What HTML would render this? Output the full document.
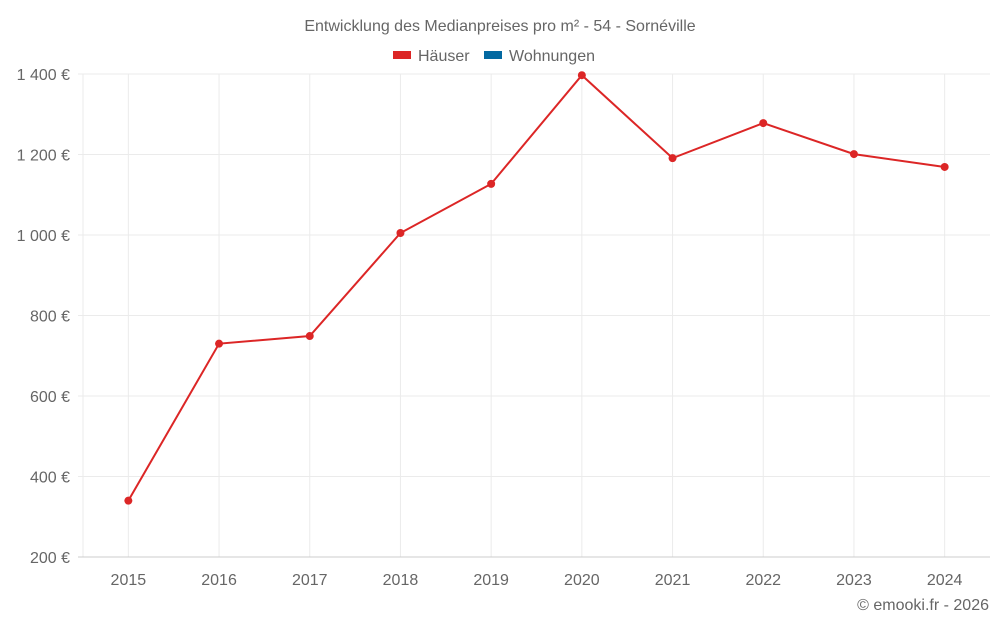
<!DOCTYPE html>
<html><head><meta charset="utf-8"><style>
body{margin:0;background:#fff;font-family:"Liberation Sans",sans-serif;}
svg text{font-family:"Liberation Sans",sans-serif;fill:#666;}
</style></head><body>
<svg id="chart" width="1000" height="625"></svg>
<script>
const years=["2015","2016","2017","2018","2019","2020","2021","2022","2023","2024"];
const houses=[340,730,749,1005,1127,1397,1191,1278,1201,1169];
const yTicks=[200,400,600,800,1000,1200,1400];
const yTickLabels=["200 €","400 €","600 €","800 €","1 000 €","1 200 €","1 400 €"];
const NS="http://www.w3.org/2000/svg";
const svg=document.getElementById('chart');
const L=83,R=990,T=74,B=557,yMin=200,yMax=1400;
const band=(R-L)/years.length;
const x=i=>L+band*(i+0.5);
const y=v=>B-(v-yMin)/(yMax-yMin)*(B-T);
function el(t,a,txt){const e=document.createElementNS(NS,t);for(const k in a)e.setAttribute(k,a[k]);if(txt!==undefined)e.textContent=txt;svg.appendChild(e);return e;}
let e;
e=el('text',{x:500,y:31,'text-anchor':'middle','font-size':16},'Entwicklung des Medianpreises pro m² - 54 - Sornéville');


e=el('line',{x1:L,x2:L,y1:T,y2:B,stroke:'#ebebeb'});


years.forEach((yr,i)=>{
 e=el('line',{x1:x(i),x2:x(i),y1:T,y2:B,stroke:'#ebebeb'});
 
 
 e=el('text',{x:x(i),y:585,'text-anchor':'middle','font-size':16},yr);
 
 
});
yTicks.forEach((v,i)=>{
 e=el('line',{x1:L-5,x2:R,y1:y(v),y2:y(v),stroke:i===0?'#ccc':'#ebebeb','stroke-width':1});
 
 
 e=el('text',{x:70,y:y(v)+6,'text-anchor':'end','font-size':16},yTickLabels[i]);
 
 
});
e=el('polyline',{points:houses.map((v,i)=>x(i)+','+y(v)).join(' '),fill:'none',stroke:'#dc2626','stroke-width':2});


houses.forEach((v,i)=>{
 e=el('circle',{cx:x(i),cy:y(v),r:4,fill:'#dc2626'});
 
 
});
e=el('rect',{x:393,y:51,width:18,height:8,fill:'#dc2626'});


e=el('text',{x:418,y:61,'font-size':16},'Häuser');


e=el('rect',{x:484,y:51,width:18,height:8,fill:'#0369a1'});


e=el('text',{x:509,y:61,'font-size':16},'Wohnungen');


e=el('text',{x:989,y:610,'text-anchor':'end','font-size':16},'© emooki.fr - 2026');


</script>
</body></html>
